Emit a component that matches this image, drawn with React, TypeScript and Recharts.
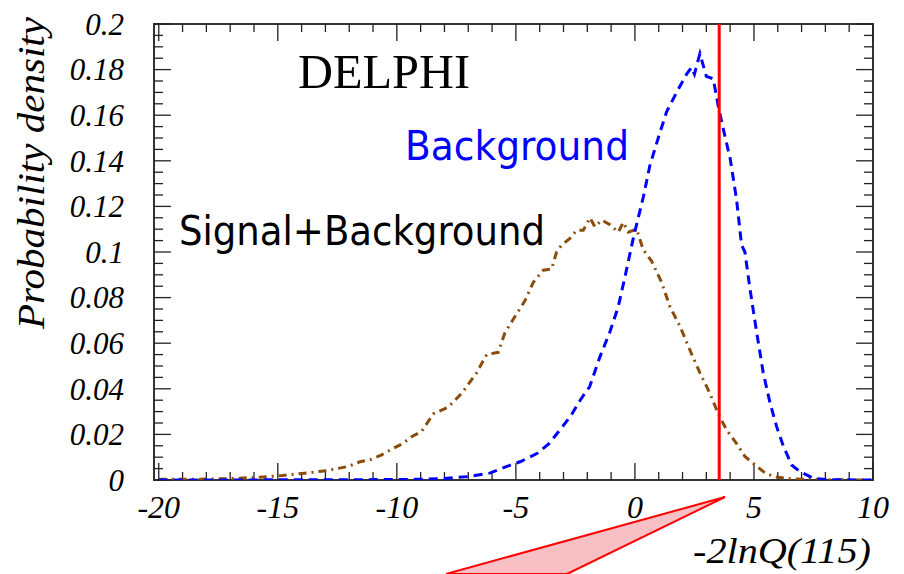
import React from "react";
import { LineChart, Line, XAxis, YAxis, ReferenceLine, ReferenceArea } from "recharts";

// Background-only distribution of -2lnQ (blue dashed)
const bgX = [-20, -12, -9, -8, -7, -6.1, -5.4, -4.8, -4.1, -3.6, -3.15, -2.7, -2.3, -1.9, -1.47, -1.05, -0.7, -0.42, -0.07, 0.35, 0.63, 0.98, 1.33, 1.75, 2.17, 2.38, 2.5, 2.6, 2.73, 3.0, 3.29, 3.5, 3.71, 4.0, 4.27, 4.48, 4.62, 4.83, 5.11, 5.39, 5.67, 5.95, 6.23, 6.58, 6.93, 7.5, 8.2, 10];
const bgY = [0, 0.0001, 0.0003, 0.0007, 0.0015, 0.003, 0.0059, 0.0081, 0.0117, 0.016, 0.022, 0.028, 0.035, 0.041, 0.054, 0.065, 0.076, 0.089, 0.106, 0.124, 0.138, 0.15, 0.1615, 0.17, 0.178, 0.181, 0.178, 0.182, 0.187, 0.177, 0.176, 0.164, 0.154, 0.141, 0.123, 0.103, 0.1, 0.084, 0.065, 0.047, 0.034, 0.0235, 0.015, 0.0066, 0.0037, 0.0007, 0.0001, 0];

// Signal+Background distribution (brown dash-dot)
const sbX = [-20, -19, -17.8, -16.8, -15.75, -14.8, -13.87, -12.95, -12.46, -12.02, -11.55, -11.1, -10.64, -10.22, -9.77, -9.38, -8.96, -8.47, -7.84, -7.28, -6.65, -6.23, -5.74, -5.46, -5.11, -4.62, -4.27, -3.85, -3.5, -3.29, -3.08, -2.73, -2.45, -2.17, -1.89, -1.68, -1.4, -1.05, -0.7, -0.49, -0.28, 0.07, 0.35, 0.7, 1.12, 1.47, 1.89, 2.31, 2.73, 3.15, 3.5, 3.85, 4.27, 4.62, 4.97, 5.39, 5.81, 6.4, 7, 8, 10];
const sbY = [0.0003, 0.0003, 0.0004, 0.0007, 0.0012, 0.002, 0.003, 0.0041, 0.0051, 0.006, 0.008, 0.009, 0.011, 0.0135, 0.0159, 0.019, 0.0213, 0.029, 0.032, 0.038, 0.047, 0.055, 0.056, 0.0646, 0.0705, 0.0786, 0.0867, 0.092, 0.0925, 0.1, 0.103, 0.106, 0.1095, 0.1095, 0.115, 0.111, 0.114, 0.112, 0.1087, 0.113, 0.1087, 0.11, 0.101, 0.096, 0.0867, 0.076, 0.0675, 0.057, 0.047, 0.038, 0.029, 0.022, 0.016, 0.0103, 0.0073, 0.0037, 0.0015, 0.0007, 0.0003, 0.0001, 0];

// observed value of -2lnQ
const observed = 3.54;

const xTicks = [-20, -15, -10, -5, 0, 5, 10];
const yTicks = [0, 0.02, 0.04, 0.06, 0.08, 0.1, 0.12, 0.14, 0.16, 0.18, 0.2];
const xMinor = Array.from({ length: 31 }, (_, i) => -20 + i);
const yMinor = Array.from({ length: 41 }, (_, i) => +(i * 0.005).toFixed(3));

const X_MIN = -20.2;
const X_MAX = 10;
const Y_MAX = 0.2;

const bgData = bgX.map((x, i) => ({ x, y: bgY[i] }));
const sbData = sbX.map((x, i) => ({ x, y: sbY[i] }));

const serif = "'Liberation Serif', 'Times New Roman', serif";
const comic = "'DejaVu Sans', sans-serif";

const XTick = (props: any) => (
  <text x={props.x} y={props.y} textAnchor="middle" fontFamily={serif} fontStyle="italic" fontSize={32} fill="#000">
    {props.payload.value}
  </text>
);

const YTick = (props: any) => {
  const v = props.payload.value;
  const label = v === 0 ? "0" : String(+v.toFixed(2));
  return (
    <text x={props.x} y={props.y} dy="0.35em" textAnchor="end" fontFamily={serif} fontStyle="italic" fontSize={31} fill="#000">
      {label}
    </text>
  );
};

export default function App() {
  const tickColor = "#222";
  return (
    <div style={{ position: "absolute", left: 0, top: 0, width: 904, height: 574, background: "#fff" }}>
      <LineChart width={904} height={574} margin={{ top: 24, right: 31, left: 54, bottom: 44 }}>
        <XAxis
          type="number"
          dataKey="x"
          domain={[X_MIN, X_MAX]}
          ticks={xTicks}
          allowDataOverflow
          axisLine={false}
          tickLine={false}
          tickSize={0}
          tickMargin={38}
          height={50}
          tick={<XTick />}
        />
        <YAxis
          type="number"
          dataKey="y"
          domain={[0, Y_MAX]}
          ticks={yTicks}
          allowDataOverflow
          axisLine={false}
          tickLine={false}
          tickSize={0}
          tickMargin={30}
          width={100}
          tick={<YTick />}
        />
        {xMinor.map((v) => {
          const len = v % 5 === 0 ? 0.0075 : 0.0035;
          return (
            <React.Fragment key={"xt" + v}>
              <ReferenceLine segment={[{ x: v, y: 0 }, { x: v, y: len }]} stroke={tickColor} strokeWidth={1.3} />
              <ReferenceLine segment={[{ x: v, y: Y_MAX }, { x: v, y: Y_MAX - len }]} stroke={tickColor} strokeWidth={1.3} />
            </React.Fragment>
          );
        })}
        {yMinor.map((v, i) => {
          const len = i % 4 === 0 ? 0.71 : 0.38;
          return (
            <React.Fragment key={"yt" + i}>
              <ReferenceLine segment={[{ x: X_MIN, y: v }, { x: X_MIN + len, y: v }]} stroke={tickColor} strokeWidth={1.3} />
              <ReferenceLine segment={[{ x: X_MAX, y: v }, { x: X_MAX - len, y: v }]} stroke={tickColor} strokeWidth={1.3} />
            </React.Fragment>
          );
        })}
        <Line
          data={sbData}
          dataKey="y"
          type="linear"
          stroke="#8c4c0c"
          strokeWidth={3}
          strokeDasharray="8 5 2 5"
          dot={false}
          isAnimationActive={false}
        />
        <Line
          data={bgData}
          dataKey="y"
          type="linear"
          stroke="#0000ff"
          strokeWidth={3}
          strokeDasharray="9 6"
          dot={false}
          isAnimationActive={false}
        />
        <ReferenceLine x={observed} stroke="#ff0000" strokeWidth={3} />
        <ReferenceArea x1={X_MIN} x2={X_MAX} y1={0} y2={Y_MAX} fill="none" stroke="#333" strokeWidth={2} />
      </LineChart>
      <svg width={904} height={574} style={{ position: "absolute", left: 0, top: 0, pointerEvents: "none" }}>
        <text x={298} y={88} fontFamily={serif} fontSize={48} textLength={172} lengthAdjust="spacingAndGlyphs" fill="#000">
          DELPHI
        </text>
        <text x={405} y={160} fontFamily={comic} fontSize={40} textLength={224} lengthAdjust="spacingAndGlyphs" fill="#0000ff">
          Background
        </text>
        <text x={179} y={245} fontFamily={comic} fontSize={40} textLength={366} lengthAdjust="spacingAndGlyphs" fill="#000">
          Signal+Background
        </text>
        <text x={871} y={563} textAnchor="end" fontFamily={serif} fontStyle="italic" fontSize={36} textLength={178} lengthAdjust="spacingAndGlyphs" fill="#000">
          -2lnQ(115)
        </text>
        <text transform="translate(44,173) rotate(-90)" textAnchor="middle" fontFamily={serif} fontStyle="italic" fontSize={38} textLength={312} lengthAdjust="spacingAndGlyphs" fill="#000">
          Probability density
        </text>
        <polygon points="725,497 446,574 567,574" fill="#f8c0c4" stroke="#ff0000" strokeWidth={2} />
      </svg>
    </div>
  );
}
